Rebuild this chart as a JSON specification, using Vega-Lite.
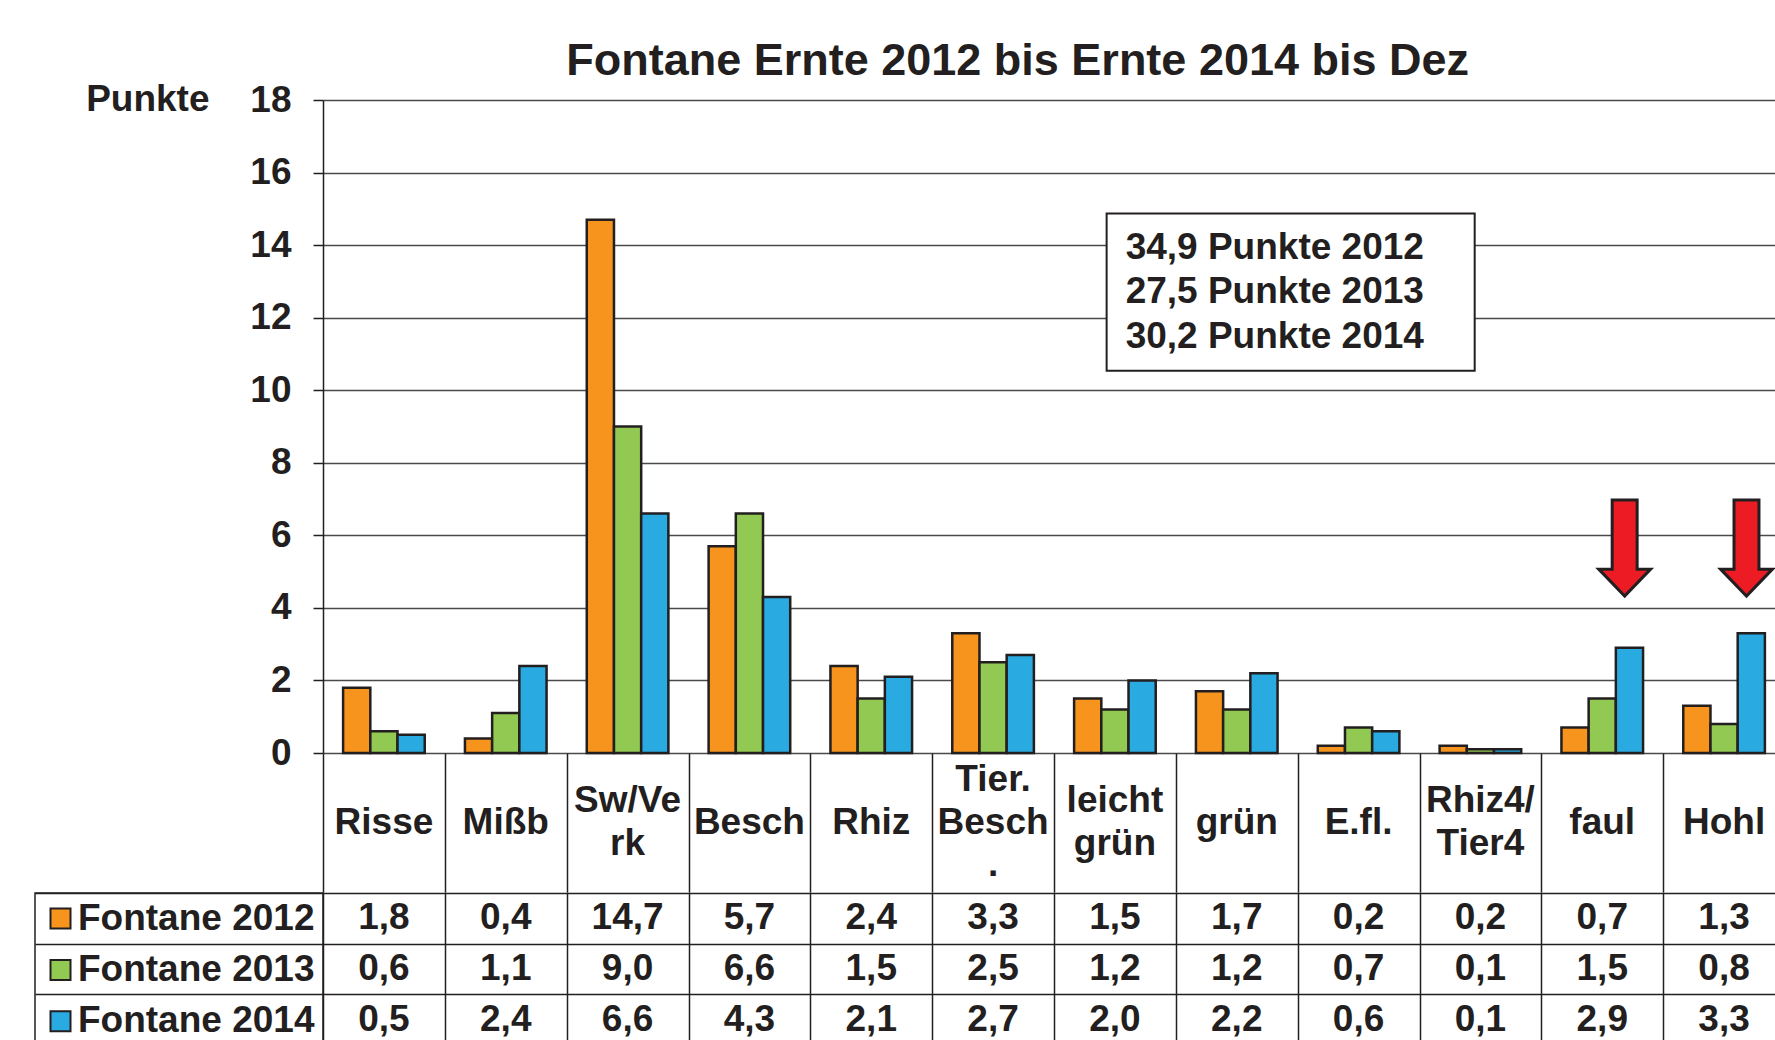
{
  "$schema": "https://vega.github.io/schema/vega-lite/v6.json",
  "background": "white",
  "padding": {"left": 34, "top": 39, "right": 0, "bottom": 0},
  "config": {
    "view": {"stroke": null},
    "font": "Liberation Sans",
    "locale": {"number": {"decimal": ",", "thousands": ".", "grouping": [3], "currency": ["", " €"]}},
    "text": {"font": "Liberation Sans", "fontWeight": "bold", "color": "#231F20"}
  },
  "title": {
    "text": "Fontane Ernte 2012 bis Ernte 2014 bis Dez",
    "font": "Liberation Sans",
    "fontSize": 45,
    "fontWeight": "bold",
    "color": "#231F20",
    "anchor": "middle",
    "dx": 108,
    "offset": -4
  },
  "datasets": {
    "werte": [
      {"kategorie": "Risse", "serie": "Fontane 2012", "punkte": 1.8},
      {"kategorie": "Risse", "serie": "Fontane 2013", "punkte": 0.6},
      {"kategorie": "Risse", "serie": "Fontane 2014", "punkte": 0.5},
      {"kategorie": "Mißb", "serie": "Fontane 2012", "punkte": 0.4},
      {"kategorie": "Mißb", "serie": "Fontane 2013", "punkte": 1.1},
      {"kategorie": "Mißb", "serie": "Fontane 2014", "punkte": 2.4},
      {"kategorie": "Sw/Verk", "serie": "Fontane 2012", "punkte": 14.7},
      {"kategorie": "Sw/Verk", "serie": "Fontane 2013", "punkte": 9.0},
      {"kategorie": "Sw/Verk", "serie": "Fontane 2014", "punkte": 6.6},
      {"kategorie": "Besch", "serie": "Fontane 2012", "punkte": 5.7},
      {"kategorie": "Besch", "serie": "Fontane 2013", "punkte": 6.6},
      {"kategorie": "Besch", "serie": "Fontane 2014", "punkte": 4.3},
      {"kategorie": "Rhiz", "serie": "Fontane 2012", "punkte": 2.4},
      {"kategorie": "Rhiz", "serie": "Fontane 2013", "punkte": 1.5},
      {"kategorie": "Rhiz", "serie": "Fontane 2014", "punkte": 2.1},
      {"kategorie": "Tier. Besch.", "serie": "Fontane 2012", "punkte": 3.3},
      {"kategorie": "Tier. Besch.", "serie": "Fontane 2013", "punkte": 2.5},
      {"kategorie": "Tier. Besch.", "serie": "Fontane 2014", "punkte": 2.7},
      {"kategorie": "leicht grün", "serie": "Fontane 2012", "punkte": 1.5},
      {"kategorie": "leicht grün", "serie": "Fontane 2013", "punkte": 1.2},
      {"kategorie": "leicht grün", "serie": "Fontane 2014", "punkte": 2.0},
      {"kategorie": "grün", "serie": "Fontane 2012", "punkte": 1.7},
      {"kategorie": "grün", "serie": "Fontane 2013", "punkte": 1.2},
      {"kategorie": "grün", "serie": "Fontane 2014", "punkte": 2.2},
      {"kategorie": "E.fl.", "serie": "Fontane 2012", "punkte": 0.2},
      {"kategorie": "E.fl.", "serie": "Fontane 2013", "punkte": 0.7},
      {"kategorie": "E.fl.", "serie": "Fontane 2014", "punkte": 0.6},
      {"kategorie": "Rhiz4/Tier4", "serie": "Fontane 2012", "punkte": 0.2},
      {"kategorie": "Rhiz4/Tier4", "serie": "Fontane 2013", "punkte": 0.1},
      {"kategorie": "Rhiz4/Tier4", "serie": "Fontane 2014", "punkte": 0.1},
      {"kategorie": "faul", "serie": "Fontane 2012", "punkte": 0.7},
      {"kategorie": "faul", "serie": "Fontane 2013", "punkte": 1.5},
      {"kategorie": "faul", "serie": "Fontane 2014", "punkte": 2.9},
      {"kategorie": "Hohl", "serie": "Fontane 2012", "punkte": 1.3},
      {"kategorie": "Hohl", "serie": "Fontane 2013", "punkte": 0.8},
      {"kategorie": "Hohl", "serie": "Fontane 2014", "punkte": 3.3}
    ],
    "kategorien": [
      {"kategorie": "Risse", "bezeichnung": "Risse"},
      {"kategorie": "Mißb", "bezeichnung": "Mißb"},
      {"kategorie": "Sw/Verk", "bezeichnung": "Sw/Ve|rk"},
      {"kategorie": "Besch", "bezeichnung": "Besch"},
      {"kategorie": "Rhiz", "bezeichnung": "Rhiz"},
      {"kategorie": "Tier. Besch.", "bezeichnung": "Tier.|Besch|."},
      {"kategorie": "leicht grün", "bezeichnung": "leicht|grün"},
      {"kategorie": "grün", "bezeichnung": "grün"},
      {"kategorie": "E.fl.", "bezeichnung": "E.fl."},
      {"kategorie": "Rhiz4/Tier4", "bezeichnung": "Rhiz4/|Tier4"},
      {"kategorie": "faul", "bezeichnung": "faul"},
      {"kategorie": "Hohl", "bezeichnung": "Hohl"}
    ],
    "pfeile": [
      {"kategorie": "faul", "serie": "Fontane 2014"},
      {"kategorie": "Hohl", "serie": "Fontane 2014"}
    ]
  },
  "columns": 2,
  "spacing": 0,
  "bounds": "flush",
  "align": "each",
  "concat": [
    {
      "width": 288,
      "height": 653,
      "data": {"values": [{}]},
      "mark": {"type": "text", "text": ""}
    },
    {
      "width": 1462,
      "height": 653,
      "resolve": {"scale": {"x": "independent"}},
      "layer": [
        {
          "data": {"name": "werte"},
          "mark": {"type": "bar", "stroke": "#231F20", "strokeWidth": 2.5},
          "encoding": {
            "x": {
              "field": "kategorie", "type": "nominal",
              "scale": {"domain": ["Risse", "Mißb", "Sw/Verk", "Besch", "Rhiz", "Tier. Besch.", "leicht grün", "grün", "E.fl.", "Rhiz4/Tier4", "faul", "Hohl"], "paddingInner": 0, "paddingOuter": 0},
              "axis": null
            },
            "xOffset": {
              "field": "serie", "type": "nominal",
              "scale": {"domain": ["Fontane 2012", "Fontane 2013", "Fontane 2014"], "paddingInner": 0, "paddingOuter": 0.739}
            },
            "y": {
              "field": "punkte", "type": "quantitative",
              "scale": {"domain": [0, 18], "nice": false, "zero": true},
              "axis": {
                "values": [0, 2, 4, 6, 8, 10, 12, 14, 16, 18],
                "title": "Punkte",
                "titleAngle": 0,
                "titleAlign": "right",
                "titleBaseline": "middle",
                "titleX": -114,
                "titleY": -1,
                "titleFont": "Liberation Sans",
                "titleFontSize": 37,
                "titleFontWeight": "bold",
                "titleColor": "#231F20",
                "labelFont": "Liberation Sans",
                "labelFontSize": 37,
                "labelFontWeight": "bold",
                "labelColor": "#231F20",
                "labelPadding": 22,
                "tickSize": 10,
                "tickColor": "#231F20",
                "tickWidth": 1.5,
                "domainColor": "#231F20",
                "domainWidth": 1.5,
                "grid": true,
                "gridColor": "#4a4a4a",
                "gridWidth": 1.5
              }
            },
            "color": {
              "field": "serie", "type": "nominal",
              "scale": {"domain": ["Fontane 2012", "Fontane 2013", "Fontane 2014"], "range": ["#F7941D", "#92C952", "#29ABE2"]},
              "legend": {
                "orient": "none",
                "legendX": 7,
                "legendY": 800,
                "title": null,
                "padding": 0,
                "symbolType": "square",
                "symbolSize": 400,
                "symbolStrokeColor": "#231F20",
                "symbolStrokeWidth": 2,
                "symbolOpacity": 1,
                "labelFont": "Liberation Sans",
                "labelFontSize": 37,
                "labelFontWeight": "bold",
                "labelColor": "#231F20",
                "labelOffset": -1,
                "labelLimit": 400,
                "rowPadding": 13.4
              }
            }
          }
        },
        {
          "data": {"values": [{}]},
          "mark": {"type": "rect", "fill": "white", "stroke": "#231F20", "strokeWidth": 2},
          "encoding": {
            "x": {"datum": 6.432, "type": "quantitative", "scale": {"domain": [0, 12], "nice": false, "zero": false}, "axis": null},
            "x2": {"datum": 9.453},
            "y": {"datum": 14.87, "type": "quantitative"},
            "y2": {"datum": 10.54}
          }
        },
        {
          "data": {"values": [{}]},
          "mark": {
            "type": "text",
            "text": ["34,9 Punkte 2012", "27,5 Punkte 2013", "30,2 Punkte 2014"],
            "align": "left",
            "baseline": "middle",
            "font": "Liberation Sans",
            "fontSize": 37,
            "fontWeight": "bold",
            "lineHeight": 44.5,
            "color": "#231F20"
          },
          "encoding": {
            "x": {"datum": 6.588, "type": "quantitative", "scale": {"domain": [0, 12], "nice": false, "zero": false}, "axis": null},
            "y": {"datum": 13.93, "type": "quantitative"}
          }
        },
        {
          "data": {"name": "pfeile"},
          "mark": {
            "type": "point",
            "shape": "M -0.36 -1 L 0.16 -1 L 0.16 0.44 L 0.44 0.44 L -0.1 1 L -0.64 0.44 L -0.36 0.44 Z",
            "size": 9216,
            "filled": true,
            "fill": "#ED1C24",
            "stroke": "#231F20",
            "strokeWidth": 3,
            "opacity": 1
          },
          "encoding": {
            "x": {
              "field": "kategorie", "type": "nominal",
              "scale": {"domain": ["Risse", "Mißb", "Sw/Verk", "Besch", "Rhiz", "Tier. Besch.", "leicht grün", "grün", "E.fl.", "Rhiz4/Tier4", "faul", "Hohl"], "paddingInner": 0, "paddingOuter": 0},
              "axis": null
            },
            "xOffset": {
              "field": "serie", "type": "nominal",
              "scale": {"domain": ["Fontane 2012", "Fontane 2013", "Fontane 2014"], "paddingInner": 0, "paddingOuter": 0.739}
            },
            "y": {"datum": 5.65, "type": "quantitative"}
          }
        }
      ]
    },
    {
      "width": 288,
      "height": 139.2,
      "data": {"values": [{}]},
      "mark": {"type": "text", "text": ""}
    },
    {
      "width": 1462,
      "height": 139.2,
      "data": {"name": "kategorien"},
      "encoding": {
        "x": {
          "field": "kategorie", "type": "nominal",
          "scale": {"domain": ["Risse", "Mißb", "Sw/Verk", "Besch", "Rhiz", "Tier. Besch.", "leicht grün", "grün", "E.fl.", "Rhiz4/Tier4", "faul", "Hohl"], "paddingInner": 0, "paddingOuter": 0},
          "axis": {"grid": true, "tickBand": "extent", "labels": false, "ticks": false, "domain": false, "title": null, "gridColor": "#231F20", "gridWidth": 1.5}
        },
        "text": {"field": "bezeichnung", "type": "nominal"}
      },
      "layer": [
        {
          "transform": [{"filter": "split(datum.bezeichnung, '|').length == 1"}],
          "mark": {"type": "text", "font": "Liberation Sans", "fontSize": 37, "fontWeight": "bold", "lineBreak": "|", "lineHeight": 42.5, "baseline": "middle", "align": "center", "color": "#231F20"}
        },
        {
          "transform": [{"filter": "split(datum.bezeichnung, '|').length == 2"}],
          "mark": {"type": "text", "font": "Liberation Sans", "fontSize": 37, "fontWeight": "bold", "lineBreak": "|", "lineHeight": 42.5, "baseline": "middle", "align": "center", "color": "#231F20", "dy": -21.25}
        },
        {
          "transform": [{"filter": "split(datum.bezeichnung, '|').length == 3"}],
          "mark": {"type": "text", "font": "Liberation Sans", "fontSize": 37, "fontWeight": "bold", "lineBreak": "|", "lineHeight": 42.5, "baseline": "middle", "align": "center", "color": "#231F20", "dy": -42.5}
        }
      ]
    },
    {
      "width": 288,
      "height": 152,
      "view": {"stroke": "#231F20", "strokeWidth": 1.5},
      "data": {"name": "werte"},
      "mark": {"type": "text", "text": ""},
      "encoding": {
        "y": {
          "field": "serie", "type": "nominal",
          "scale": {"domain": ["Fontane 2012", "Fontane 2013", "Fontane 2014"], "paddingInner": 0, "paddingOuter": 0},
          "axis": {"grid": true, "tickBand": "extent", "labels": false, "ticks": false, "domain": false, "title": null, "gridColor": "#231F20", "gridWidth": 1.5}
        }
      }
    },
    {
      "width": 1462,
      "height": 152,
      "data": {"name": "werte"},
      "mark": {
        "type": "text",
        "font": "Liberation Sans",
        "fontSize": 37,
        "fontWeight": "bold",
        "baseline": "middle",
        "align": "center",
        "color": "#231F20"
      },
      "encoding": {
        "x": {
          "field": "kategorie", "type": "nominal",
          "scale": {"domain": ["Risse", "Mißb", "Sw/Verk", "Besch", "Rhiz", "Tier. Besch.", "leicht grün", "grün", "E.fl.", "Rhiz4/Tier4", "faul", "Hohl"], "paddingInner": 0, "paddingOuter": 0},
          "axis": {"grid": true, "tickBand": "extent", "labels": false, "ticks": false, "domain": false, "title": null, "gridColor": "#231F20", "gridWidth": 1.5}
        },
        "y": {
          "field": "serie", "type": "nominal",
          "scale": {"domain": ["Fontane 2012", "Fontane 2013", "Fontane 2014"], "paddingInner": 0, "paddingOuter": 0},
          "axis": {"grid": true, "tickBand": "extent", "labels": false, "ticks": false, "domain": false, "title": null, "gridColor": "#231F20", "gridWidth": 1.5}
        },
        "text": {"field": "punkte", "type": "quantitative", "format": ".1f"}
      }
    }
  ]
}
